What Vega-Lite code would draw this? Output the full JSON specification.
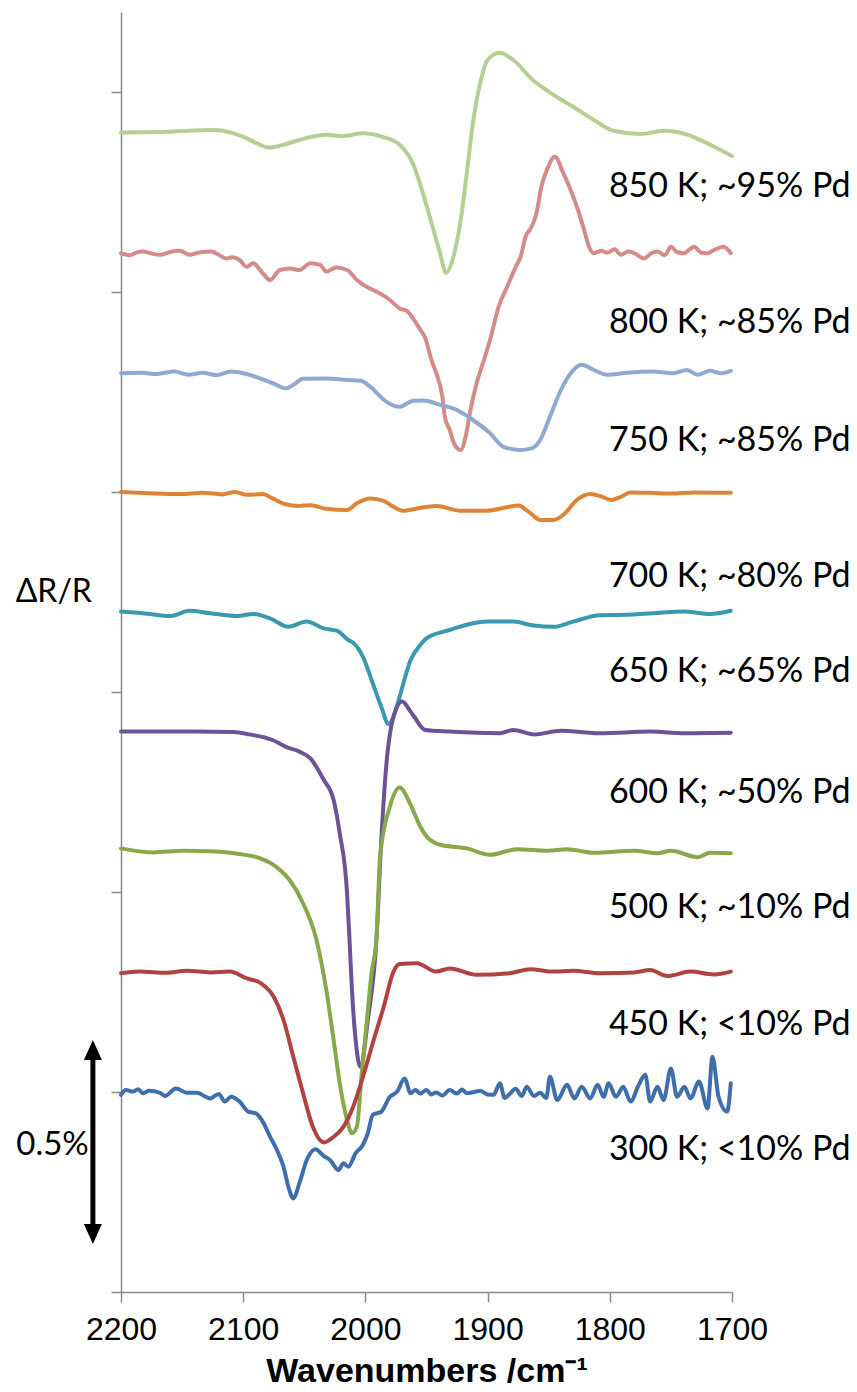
{
  "$schema": "https://vega.github.io/schema/vega-lite/v6.json",
  "width": 611,
  "height": 1280,
  "autosize": {"type": "none"},
  "padding": {"left": 121, "top": 12, "right": 125, "bottom": 100},
  "background": "white",
  "config": {"view": {"stroke": null}},
  "datasets": {
    "spectra": [
      {"s":"850 K","wn":2200,"v":2.899},{"s":"850 K","wn":2168,"v":2.9},{"s":"850 K","wn":2123,"v":2.905},{"s":"850 K","wn":2100,"v":2.888},{"s":"850 K","wn":2089,"v":2.872},{"s":"850 K","wn":2079,"v":2.861},{"s":"850 K","wn":2065,"v":2.87},{"s":"850 K","wn":2054,"v":2.88},{"s":"850 K","wn":2032,"v":2.893},{"s":"850 K","wn":2018,"v":2.89},{"s":"850 K","wn":2002,"v":2.897},{"s":"850 K","wn":1986,"v":2.888},{"s":"850 K","wn":1972,"v":2.868},{"s":"850 K","wn":1961,"v":2.82},{"s":"850 K","wn":1953,"v":2.748},{"s":"850 K","wn":1945,"v":2.663},{"s":"850 K","wn":1939,"v":2.598},{"s":"850 K","wn":1934,"v":2.548},{"s":"850 K","wn":1928,"v":2.588},{"s":"850 K","wn":1922,"v":2.68},{"s":"850 K","wn":1917,"v":2.798},{"s":"850 K","wn":1912,"v":2.923},{"s":"850 K","wn":1906,"v":3.023},{"s":"850 K","wn":1900,"v":3.08},{"s":"850 K","wn":1890,"v":3.098},{"s":"850 K","wn":1879,"v":3.08},{"s":"850 K","wn":1863,"v":3.03},{"s":"850 K","wn":1846,"v":2.993},{"s":"850 K","wn":1830,"v":2.963},{"s":"850 K","wn":1813,"v":2.93},{"s":"850 K","wn":1797,"v":2.903},{"s":"850 K","wn":1775,"v":2.895},{"s":"850 K","wn":1756,"v":2.903},{"s":"850 K","wn":1736,"v":2.893},{"s":"850 K","wn":1718,"v":2.868},{"s":"850 K","wn":1700,"v":2.84},

      {"s":"800 K","wn":2200,"v":2.597},{"s":"800 K","wn":2193,"v":2.592},{"s":"800 K","wn":2187,"v":2.599},{"s":"800 K","wn":2182,"v":2.601},{"s":"800 K","wn":2175,"v":2.596},{"s":"800 K","wn":2168,"v":2.593},{"s":"800 K","wn":2160,"v":2.6},{"s":"800 K","wn":2152,"v":2.603},{"s":"800 K","wn":2144,"v":2.593},{"s":"800 K","wn":2136,"v":2.599},{"s":"800 K","wn":2126,"v":2.601},{"s":"800 K","wn":2120,"v":2.593},{"s":"800 K","wn":2114,"v":2.584},{"s":"800 K","wn":2109,"v":2.587},{"s":"800 K","wn":2103,"v":2.58},{"s":"800 K","wn":2097,"v":2.563},{"s":"800 K","wn":2092,"v":2.572},{"s":"800 K","wn":2084,"v":2.547},{"s":"800 K","wn":2078,"v":2.53},{"s":"800 K","wn":2070,"v":2.555},{"s":"800 K","wn":2062,"v":2.559},{"s":"800 K","wn":2054,"v":2.555},{"s":"800 K","wn":2045,"v":2.572},{"s":"800 K","wn":2037,"v":2.568},{"s":"800 K","wn":2032,"v":2.551},{"s":"800 K","wn":2024,"v":2.561},{"s":"800 K","wn":2015,"v":2.555},{"s":"800 K","wn":2007,"v":2.53},{"s":"800 K","wn":1999,"v":2.513},{"s":"800 K","wn":1991,"v":2.501},{"s":"800 K","wn":1980,"v":2.48},{"s":"800 K","wn":1972,"v":2.459},{"s":"800 K","wn":1966,"v":2.453},{"s":"800 K","wn":1961,"v":2.434},{"s":"800 K","wn":1955,"v":2.405},{"s":"800 K","wn":1951,"v":2.385},{"s":"800 K","wn":1946,"v":2.33},{"s":"800 K","wn":1942,"v":2.297},{"s":"800 K","wn":1937,"v":2.238},{"s":"800 K","wn":1935,"v":2.188},{"s":"800 K","wn":1931,"v":2.155},{"s":"800 K","wn":1927,"v":2.118},{"s":"800 K","wn":1922,"v":2.105},{"s":"800 K","wn":1918,"v":2.138},{"s":"800 K","wn":1914,"v":2.205},{"s":"800 K","wn":1909,"v":2.272},{"s":"800 K","wn":1903,"v":2.33},{"s":"800 K","wn":1898,"v":2.38},{"s":"800 K","wn":1891,"v":2.463},{"s":"800 K","wn":1884,"v":2.513},{"s":"800 K","wn":1877,"v":2.563},{"s":"800 K","wn":1873,"v":2.588},{"s":"800 K","wn":1869,"v":2.638},{"s":"800 K","wn":1864,"v":2.663},{"s":"800 K","wn":1860,"v":2.697},{"s":"800 K","wn":1856,"v":2.763},{"s":"800 K","wn":1851,"v":2.809},{"s":"800 K","wn":1845,"v":2.838},{"s":"800 K","wn":1838,"v":2.797},{"s":"800 K","wn":1831,"v":2.747},{"s":"800 K","wn":1826,"v":2.705},{"s":"800 K","wn":1821,"v":2.655},{"s":"800 K","wn":1817,"v":2.613},{"s":"800 K","wn":1813,"v":2.597},{"s":"800 K","wn":1807,"v":2.603},{"s":"800 K","wn":1802,"v":2.598},{"s":"800 K","wn":1796,"v":2.607},{"s":"800 K","wn":1791,"v":2.593},{"s":"800 K","wn":1785,"v":2.601},{"s":"800 K","wn":1780,"v":2.597},{"s":"800 K","wn":1772,"v":2.584},{"s":"800 K","wn":1766,"v":2.597},{"s":"800 K","wn":1761,"v":2.601},{"s":"800 K","wn":1755,"v":2.592},{"s":"800 K","wn":1750,"v":2.613},{"s":"800 K","wn":1745,"v":2.6},{"s":"800 K","wn":1739,"v":2.597},{"s":"800 K","wn":1735,"v":2.606},{"s":"800 K","wn":1731,"v":2.613},{"s":"800 K","wn":1725,"v":2.598},{"s":"800 K","wn":1720,"v":2.597},{"s":"800 K","wn":1714,"v":2.606},{"s":"800 K","wn":1707,"v":2.613},{"s":"800 K","wn":1701,"v":2.597},

      {"s":"750 K","wn":2200,"v":2.297},{"s":"750 K","wn":2182,"v":2.298},{"s":"750 K","wn":2172,"v":2.295},{"s":"750 K","wn":2156,"v":2.301},{"s":"750 K","wn":2145,"v":2.293},{"s":"750 K","wn":2133,"v":2.298},{"s":"750 K","wn":2122,"v":2.292},{"s":"750 K","wn":2110,"v":2.301},{"s":"750 K","wn":2100,"v":2.297},{"s":"750 K","wn":2089,"v":2.287},{"s":"750 K","wn":2076,"v":2.272},{"s":"750 K","wn":2065,"v":2.259},{"s":"750 K","wn":2059,"v":2.268},{"s":"750 K","wn":2051,"v":2.283},{"s":"750 K","wn":2032,"v":2.284},{"s":"750 K","wn":2015,"v":2.28},{"s":"750 K","wn":2004,"v":2.278},{"s":"750 K","wn":1996,"v":2.263},{"s":"750 K","wn":1983,"v":2.226},{"s":"750 K","wn":1972,"v":2.213},{"s":"750 K","wn":1961,"v":2.228},{"s":"750 K","wn":1952,"v":2.229},{"s":"750 K","wn":1939,"v":2.218},{"s":"750 K","wn":1925,"v":2.205},{"s":"750 K","wn":1912,"v":2.18},{"s":"750 K","wn":1898,"v":2.147},{"s":"750 K","wn":1887,"v":2.113},{"s":"750 K","wn":1873,"v":2.105},{"s":"750 K","wn":1864,"v":2.109},{"s":"750 K","wn":1857,"v":2.13},{"s":"750 K","wn":1849,"v":2.188},{"s":"750 K","wn":1840,"v":2.255},{"s":"750 K","wn":1832,"v":2.297},{"s":"750 K","wn":1823,"v":2.318},{"s":"750 K","wn":1813,"v":2.305},{"s":"750 K","wn":1802,"v":2.293},{"s":"750 K","wn":1786,"v":2.298},{"s":"750 K","wn":1764,"v":2.301},{"s":"750 K","wn":1748,"v":2.297},{"s":"750 K","wn":1737,"v":2.305},{"s":"750 K","wn":1728,"v":2.293},{"s":"750 K","wn":1718,"v":2.303},{"s":"750 K","wn":1709,"v":2.297},{"s":"750 K","wn":1701,"v":2.303},

      {"s":"700 K","wn":2200,"v":2.0},{"s":"700 K","wn":2177,"v":1.997},{"s":"700 K","wn":2152,"v":1.995},{"s":"700 K","wn":2133,"v":1.998},{"s":"700 K","wn":2117,"v":1.994},{"s":"700 K","wn":2107,"v":2.0},{"s":"700 K","wn":2097,"v":1.993},{"s":"700 K","wn":2084,"v":1.995},{"s":"700 K","wn":2076,"v":1.984},{"s":"700 K","wn":2066,"v":1.97},{"s":"700 K","wn":2054,"v":1.965},{"s":"700 K","wn":2045,"v":1.967},{"s":"700 K","wn":2032,"v":1.958},{"s":"700 K","wn":2015,"v":1.955},{"s":"700 K","wn":2007,"v":1.972},{"s":"700 K","wn":1996,"v":1.984},{"s":"700 K","wn":1985,"v":1.978},{"s":"700 K","wn":1977,"v":1.963},{"s":"700 K","wn":1969,"v":1.953},{"s":"700 K","wn":1958,"v":1.959},{"s":"700 K","wn":1942,"v":1.965},{"s":"700 K","wn":1922,"v":1.953},{"s":"700 K","wn":1901,"v":1.953},{"s":"700 K","wn":1884,"v":1.962},{"s":"700 K","wn":1875,"v":1.966},{"s":"700 K","wn":1865,"v":1.947},{"s":"700 K","wn":1857,"v":1.93},{"s":"700 K","wn":1846,"v":1.93},{"s":"700 K","wn":1838,"v":1.943},{"s":"700 K","wn":1827,"v":1.98},{"s":"700 K","wn":1816,"v":1.995},{"s":"700 K","wn":1808,"v":1.99},{"s":"700 K","wn":1799,"v":1.98},{"s":"700 K","wn":1791,"v":1.988},{"s":"700 K","wn":1783,"v":1.999},{"s":"700 K","wn":1767,"v":1.998},{"s":"700 K","wn":1750,"v":1.996},{"s":"700 K","wn":1731,"v":1.999},{"s":"700 K","wn":1701,"v":1.998},

      {"s":"650 K","wn":2200,"v":1.701},{"s":"650 K","wn":2182,"v":1.697},{"s":"650 K","wn":2159,"v":1.69},{"s":"650 K","wn":2144,"v":1.703},{"s":"650 K","wn":2127,"v":1.697},{"s":"650 K","wn":2105,"v":1.69},{"s":"650 K","wn":2092,"v":1.695},{"s":"650 K","wn":2078,"v":1.684},{"s":"650 K","wn":2063,"v":1.663},{"s":"650 K","wn":2048,"v":1.676},{"s":"650 K","wn":2034,"v":1.659},{"s":"650 K","wn":2023,"v":1.653},{"s":"650 K","wn":2014,"v":1.63},{"s":"650 K","wn":2010,"v":1.623},{"s":"650 K","wn":2002,"v":1.588},{"s":"650 K","wn":1994,"v":1.522},{"s":"650 K","wn":1987,"v":1.463},{"s":"650 K","wn":1981,"v":1.42},{"s":"650 K","wn":1976,"v":1.447},{"s":"650 K","wn":1972,"v":1.488},{"s":"650 K","wn":1963,"v":1.58},{"s":"650 K","wn":1955,"v":1.618},{"s":"650 K","wn":1950,"v":1.634},{"s":"650 K","wn":1931,"v":1.655},{"s":"650 K","wn":1917,"v":1.668},{"s":"650 K","wn":1900,"v":1.676},{"s":"650 K","wn":1879,"v":1.676},{"s":"650 K","wn":1862,"v":1.666},{"s":"650 K","wn":1846,"v":1.663},{"s":"650 K","wn":1830,"v":1.676},{"s":"650 K","wn":1808,"v":1.692},{"s":"650 K","wn":1786,"v":1.693},{"s":"650 K","wn":1764,"v":1.697},{"s":"650 K","wn":1739,"v":1.701},{"s":"650 K","wn":1718,"v":1.695},{"s":"650 K","wn":1701,"v":1.703},

      {"s":"600 K","wn":2200,"v":1.401},{"s":"600 K","wn":2177,"v":1.401},{"s":"600 K","wn":2149,"v":1.401},{"s":"600 K","wn":2108,"v":1.4},{"s":"600 K","wn":2095,"v":1.394},{"s":"600 K","wn":2076,"v":1.38},{"s":"600 K","wn":2065,"v":1.363},{"s":"600 K","wn":2054,"v":1.351},{"s":"600 K","wn":2045,"v":1.334},{"s":"600 K","wn":2034,"v":1.28},{"s":"600 K","wn":2026,"v":1.23},{"s":"600 K","wn":2021,"v":1.147},{"s":"600 K","wn":2015,"v":0.997},{"s":"600 K","wn":2013,"v":0.88},{"s":"600 K","wn":2011,"v":0.755},{"s":"600 K","wn":2008,"v":0.63},{"s":"600 K","wn":2004,"v":0.563},{"s":"600 K","wn":1998,"v":0.68},{"s":"600 K","wn":1991,"v":0.88},{"s":"600 K","wn":1987,"v":1.13},{"s":"600 K","wn":1983,"v":1.313},{"s":"600 K","wn":1977,"v":1.438},{"s":"600 K","wn":1970,"v":1.476},{"s":"600 K","wn":1963,"v":1.451},{"s":"600 K","wn":1960,"v":1.438},{"s":"600 K","wn":1951,"v":1.405},{"s":"600 K","wn":1931,"v":1.401},{"s":"600 K","wn":1890,"v":1.397},{"s":"600 K","wn":1879,"v":1.405},{"s":"600 K","wn":1862,"v":1.394},{"s":"600 K","wn":1840,"v":1.403},{"s":"600 K","wn":1808,"v":1.397},{"s":"600 K","wn":1767,"v":1.401},{"s":"600 K","wn":1739,"v":1.397},{"s":"600 K","wn":1701,"v":1.398},

      {"s":"500 K","wn":2200,"v":1.109},{"s":"500 K","wn":2174,"v":1.099},{"s":"500 K","wn":2149,"v":1.103},{"s":"500 K","wn":2122,"v":1.101},{"s":"500 K","wn":2103,"v":1.095},{"s":"500 K","wn":2086,"v":1.084},{"s":"500 K","wn":2073,"v":1.063},{"s":"500 K","wn":2062,"v":1.03},{"s":"500 K","wn":2051,"v":0.972},{"s":"500 K","wn":2040,"v":0.88},{"s":"500 K","wn":2032,"v":0.755},{"s":"500 K","wn":2026,"v":0.63},{"s":"500 K","wn":2021,"v":0.522},{"s":"500 K","wn":2015,"v":0.43},{"s":"500 K","wn":2011,"v":0.397},{"s":"500 K","wn":2007,"v":0.413},{"s":"500 K","wn":2003,"v":0.547},{"s":"500 K","wn":1999,"v":0.672},{"s":"500 K","wn":1995,"v":0.797},{"s":"500 K","wn":1991,"v":0.88},{"s":"500 K","wn":1988,"v":1.088},{"s":"500 K","wn":1980,"v":1.213},{"s":"500 K","wn":1972,"v":1.261},{"s":"500 K","wn":1963,"v":1.218},{"s":"500 K","wn":1955,"v":1.163},{"s":"500 K","wn":1951,"v":1.143},{"s":"500 K","wn":1939,"v":1.118},{"s":"500 K","wn":1917,"v":1.109},{"s":"500 K","wn":1898,"v":1.093},{"s":"500 K","wn":1876,"v":1.107},{"s":"500 K","wn":1851,"v":1.103},{"s":"500 K","wn":1835,"v":1.107},{"s":"500 K","wn":1813,"v":1.098},{"s":"500 K","wn":1780,"v":1.103},{"s":"500 K","wn":1761,"v":1.097},{"s":"500 K","wn":1750,"v":1.103},{"s":"500 K","wn":1728,"v":1.087},{"s":"500 K","wn":1718,"v":1.098},{"s":"500 K","wn":1701,"v":1.097},

      {"s":"450 K","wn":2200,"v":0.797},{"s":"450 K","wn":2185,"v":0.801},{"s":"450 K","wn":2163,"v":0.798},{"s":"450 K","wn":2146,"v":0.803},{"s":"450 K","wn":2127,"v":0.799},{"s":"450 K","wn":2111,"v":0.801},{"s":"450 K","wn":2097,"v":0.784},{"s":"450 K","wn":2086,"v":0.773},{"s":"450 K","wn":2075,"v":0.738},{"s":"450 K","wn":2067,"v":0.68},{"s":"450 K","wn":2059,"v":0.588},{"s":"450 K","wn":2051,"v":0.497},{"s":"450 K","wn":2043,"v":0.413},{"s":"450 K","wn":2034,"v":0.374},{"s":"450 K","wn":2026,"v":0.388},{"s":"450 K","wn":2018,"v":0.413},{"s":"450 K","wn":2010,"v":0.463},{"s":"450 K","wn":2002,"v":0.538},{"s":"450 K","wn":1994,"v":0.622},{"s":"450 K","wn":1985,"v":0.713},{"s":"450 K","wn":1977,"v":0.801},{"s":"450 K","wn":1972,"v":0.82},{"s":"450 K","wn":1958,"v":0.822},{"s":"450 K","wn":1942,"v":0.801},{"s":"450 K","wn":1931,"v":0.809},{"s":"450 K","wn":1909,"v":0.793},{"s":"450 K","wn":1882,"v":0.797},{"s":"450 K","wn":1865,"v":0.807},{"s":"450 K","wn":1846,"v":0.801},{"s":"450 K","wn":1830,"v":0.803},{"s":"450 K","wn":1808,"v":0.797},{"s":"450 K","wn":1780,"v":0.799},{"s":"450 K","wn":1767,"v":0.805},{"s":"450 K","wn":1753,"v":0.79},{"s":"450 K","wn":1734,"v":0.801},{"s":"450 K","wn":1715,"v":0.794},{"s":"450 K","wn":1701,"v":0.801},

      {"s":"300 K","wn":2200,"v":0.493},{"s":"300 K","wn":2196,"v":0.505},{"s":"300 K","wn":2190,"v":0.501},{"s":"300 K","wn":2186,"v":0.507},{"s":"300 K","wn":2182,"v":0.497},{"s":"300 K","wn":2177,"v":0.503},{"s":"300 K","wn":2168,"v":0.498},{"s":"300 K","wn":2164,"v":0.49},{"s":"300 K","wn":2155,"v":0.509},{"s":"300 K","wn":2146,"v":0.498},{"s":"300 K","wn":2138,"v":0.498},{"s":"300 K","wn":2127,"v":0.484},{"s":"300 K","wn":2120,"v":0.495},{"s":"300 K","wn":2115,"v":0.476},{"s":"300 K","wn":2110,"v":0.488},{"s":"300 K","wn":2103,"v":0.476},{"s":"300 K","wn":2096,"v":0.451},{"s":"300 K","wn":2090,"v":0.447},{"s":"300 K","wn":2084,"v":0.426},{"s":"300 K","wn":2078,"v":0.388},{"s":"300 K","wn":2073,"v":0.359},{"s":"300 K","wn":2067,"v":0.313},{"s":"300 K","wn":2063,"v":0.263},{"s":"300 K","wn":2059,"v":0.234},{"s":"300 K","wn":2054,"v":0.272},{"s":"300 K","wn":2048,"v":0.33},{"s":"300 K","wn":2041,"v":0.357},{"s":"300 K","wn":2034,"v":0.34},{"s":"300 K","wn":2029,"v":0.33},{"s":"300 K","wn":2022,"v":0.305},{"s":"300 K","wn":2018,"v":0.322},{"s":"300 K","wn":2014,"v":0.313},{"s":"300 K","wn":2008,"v":0.347},{"s":"300 K","wn":2002,"v":0.368},{"s":"300 K","wn":1998,"v":0.397},{"s":"300 K","wn":1994,"v":0.443},{"s":"300 K","wn":1987,"v":0.451},{"s":"300 K","wn":1980,"v":0.488},{"s":"300 K","wn":1974,"v":0.501},{"s":"300 K","wn":1968,"v":0.534},{"s":"300 K","wn":1963,"v":0.497},{"s":"300 K","wn":1959,"v":0.505},{"s":"300 K","wn":1955,"v":0.496},{"s":"300 K","wn":1950,"v":0.505},{"s":"300 K","wn":1946,"v":0.494},{"s":"300 K","wn":1942,"v":0.499},{"s":"300 K","wn":1937,"v":0.491},{"s":"300 K","wn":1931,"v":0.505},{"s":"300 K","wn":1925,"v":0.496},{"s":"300 K","wn":1921,"v":0.506},{"s":"300 K","wn":1917,"v":0.497},{"s":"300 K","wn":1911,"v":0.5},{"s":"300 K","wn":1906,"v":0.503},{"s":"300 K","wn":1900,"v":0.494},{"s":"300 K","wn":1895,"v":0.493},{"s":"300 K","wn":1890,"v":0.522},{"s":"300 K","wn":1886,"v":0.485},{"s":"300 K","wn":1882,"v":0.495},{"s":"300 K","wn":1877,"v":0.508},{"s":"300 K","wn":1872,"v":0.49},{"s":"300 K","wn":1868,"v":0.513},{"s":"300 K","wn":1862,"v":0.49},{"s":"300 K","wn":1857,"v":0.498},{"s":"300 K","wn":1852,"v":0.485},{"s":"300 K","wn":1849,"v":0.538},{"s":"300 K","wn":1843,"v":0.48},{"s":"300 K","wn":1835,"v":0.518},{"s":"300 K","wn":1829,"v":0.484},{"s":"300 K","wn":1823,"v":0.513},{"s":"300 K","wn":1816,"v":0.484},{"s":"300 K","wn":1810,"v":0.518},{"s":"300 K","wn":1805,"v":0.488},{"s":"300 K","wn":1801,"v":0.522},{"s":"300 K","wn":1795,"v":0.488},{"s":"300 K","wn":1789,"v":0.513},{"s":"300 K","wn":1783,"v":0.476},{"s":"300 K","wn":1777,"v":0.513},{"s":"300 K","wn":1771,"v":0.543},{"s":"300 K","wn":1767,"v":0.476},{"s":"300 K","wn":1761,"v":0.513},{"s":"300 K","wn":1756,"v":0.48},{"s":"300 K","wn":1750,"v":0.559},{"s":"300 K","wn":1745,"v":0.488},{"s":"300 K","wn":1739,"v":0.513},{"s":"300 K","wn":1734,"v":0.484},{"s":"300 K","wn":1727,"v":0.526},{"s":"300 K","wn":1720,"v":0.459},{"s":"300 K","wn":1716,"v":0.588},{"s":"300 K","wn":1711,"v":0.488},{"s":"300 K","wn":1704,"v":0.451},{"s":"300 K","wn":1701,"v":0.522}
    ],
    "labels": [
      {"t":"850 K; ~95% Pd","v":2.7625},
      {"t":"800 K; ~85% Pd","v":2.4225},
      {"t":"750 K; ~85% Pd","v":2.1275},
      {"t":"700 K; ~80% Pd","v":1.7875},
      {"t":"650 K; ~65% Pd","v":1.55},
      {"t":"600 K; ~50% Pd","v":1.2475},
      {"t":"500 K; ~10% Pd","v":0.96},
      {"t":"450 K; <10% Pd","v":0.6675},
      {"t":"300 K; <10% Pd","v":0.355}
    ],
    "one": [{"k": 1}]
  },
  "layer": [
    {
      "data": {"name": "spectra"},
      "mark": {"type": "line", "strokeWidth": 4, "interpolate": "monotone", "strokeCap": "round", "strokeJoin": "round"},
      "encoding": {
        "x": {"field": "wn", "type": "quantitative",
              "scale": {"domain": [1700, 2200], "reverse": true, "nice": false, "zero": false},
              "axis": {"values": [2200, 2100, 2000, 1900, 1800, 1700], "format": "d", "grid": false,
                       "labelFlush": false, "labelOverlap": false, "labelBound": false,
                       "tickSize": 10, "tickColor": "#8a8a8a", "tickWidth": 1.5,
                       "domainColor": "#8a8a8a", "domainWidth": 1.5,
                       "labelFont": "Liberation Sans", "labelFontSize": 32, "labelColor": "#000000", "labelPadding": 12,
                       "title": "Wavenumbers /cm⁻¹", "titleFont": "Liberation Sans", "titleFontSize": 34,
                       "titleFontWeight": "bold", "titleColor": "#000000", "titlePadding": 9}},
        "y": {"field": "v", "type": "quantitative",
              "scale": {"domain": [0, 3.2], "nice": false, "zero": false},
              "axis": {"values": [0, 0.5, 1, 1.5, 2, 2.5, 3], "labels": false, "grid": false, "title": null,
                       "tickSize": 10, "tickColor": "#8a8a8a", "tickWidth": 1.5,
                       "domainColor": "#8a8a8a", "domainWidth": 1.5}},
        "color": {"field": "s", "type": "nominal", "legend": null,
                  "scale": {"domain": ["850 K", "800 K", "750 K", "700 K", "650 K", "600 K", "500 K", "450 K", "300 K"],
                            "range": ["#b5cf91", "#d48b8a", "#8fa9d3", "#df8436", "#3a98b0", "#6b5395", "#88a84a", "#b0433f", "#3f6ead"]}}
      }
    },
    {
      "data": {"name": "labels"},
      "mark": {"type": "text", "align": "right", "baseline": "middle", "font": "Lato", "fontSize": 34, "color": "#000000"},
      "encoding": {
        "x": {"datum": 1603, "type": "quantitative"},
        "y": {"field": "v", "type": "quantitative"},
        "text": {"field": "t"}
      }
    },
    {
      "data": {"name": "one"},
      "mark": {"type": "text", "align": "center", "baseline": "middle", "font": "Lato", "fontSize": 32, "color": "#000000", "text": "ΔR/R"},
      "encoding": {
        "x": {"datum": 2255, "type": "quantitative"},
        "y": {"datum": 1.75, "type": "quantitative"}
      }
    },
    {
      "data": {"name": "one"},
      "mark": {"type": "text", "align": "center", "baseline": "middle", "font": "Lato", "fontSize": 33, "color": "#000000", "text": "0.5%"},
      "encoding": {
        "x": {"datum": 2256, "type": "quantitative"},
        "y": {"datum": 0.368, "type": "quantitative"}
      }
    },
    {
      "data": {"name": "one"},
      "mark": {"type": "rule", "color": "#000000", "strokeWidth": 5},
      "encoding": {
        "x": {"datum": 2223, "type": "quantitative"},
        "y": {"datum": 0.59, "type": "quantitative"},
        "y2": {"datum": 0.16}
      }
    },
    {
      "data": {"name": "one"},
      "mark": {"type": "point", "filled": true, "color": "#000000", "opacity": 1, "size": 400, "shape": "M0,-1L-0.9,1L0.9,1Z"},
      "encoding": {
        "x": {"datum": 2223, "type": "quantitative"},
        "y": {"datum": 0.605, "type": "quantitative"}
      }
    },
    {
      "data": {"name": "one"},
      "mark": {"type": "point", "filled": true, "color": "#000000", "opacity": 1, "size": 400, "shape": "M0,1L-0.9,-1L0.9,-1Z"},
      "encoding": {
        "x": {"datum": 2223, "type": "quantitative"},
        "y": {"datum": 0.145, "type": "quantitative"}
      }
    }
  ]
}
